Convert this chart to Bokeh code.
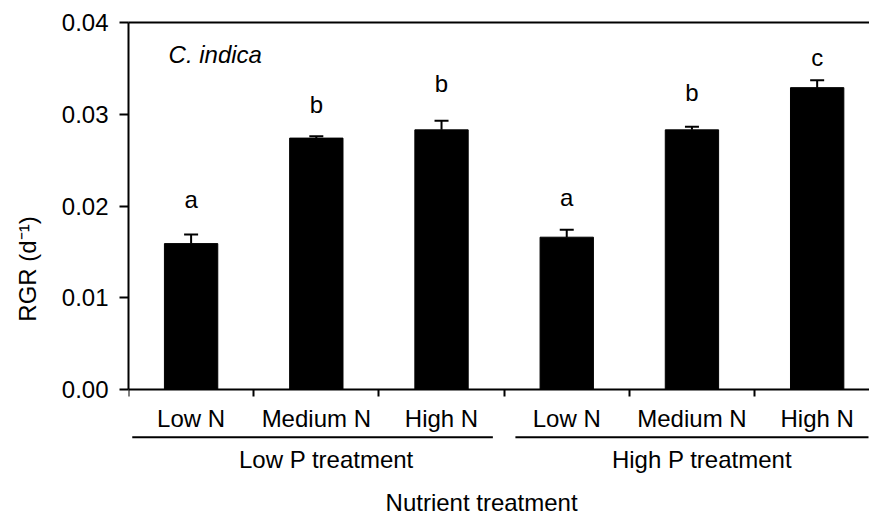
from bokeh.plotting import figure
from bokeh.models import (Range1d, FixedTicker, NumeralTickFormatter, LinearAxis,
                          Whisker, TeeHead, ColumnDataSource)
from bokeh.core.properties import value
from bokeh.embed import file_html
from bokeh.resources import INLINE

# Relative growth rate of C. indica under N x P nutrient treatments
n_levels = ["Low N", "Medium N", "High N", "Low N", "Medium N", "High N"]
p_groups = ["Low P treatment", "High P treatment"]
rgr_mean = [0.0159, 0.0274, 0.0283, 0.0166, 0.0283, 0.0329]
rgr_se = [0.0010, 0.0002, 0.0010, 0.0008, 0.00035, 0.0008]
sig_letters = ["a", "b", "b", "a", "b", "c"]
y_ticks = [0.00, 0.01, 0.02, 0.03, 0.04]

FONT = "Liberation Sans"
FS = "24px"

# vertical scale: pixels per RGR unit; the frame runs down past the axis
# so that the group annotations below it stay inside the drawing area
PX = 9175.0
Y_TOP = 0.04
Y_BOTTOM = -126 / PX
BASE_FIX = -9  # lifts alphabetic baselines of svg text onto their target


def below(px):
    """Data y for a point px pixels under the zero line."""
    return -px / PX


xs = [i + 0.5 for i in range(len(n_levels))]
src = ColumnDataSource(dict(
    x=xs, mean=rgr_mean,
    upper=[m + s for m, s in zip(rgr_mean, rgr_se)],
    letter=sig_letters,
    gap=[BASE_FIX - g for g in [26, 23, 28, 23, 25, 14]],
))

p = figure(width=869, height=515, output_backend="svg", toolbar_location=None,
           x_range=Range1d(0, 5.918), y_range=Range1d(Y_BOTTOM, Y_TOP),
           min_border_left=128, min_border_right=0, min_border_top=22,
           min_border_bottom=0, x_axis_type=None, y_axis_type=None)
p.outline_line_color = None
p.grid.visible = False
p.background_fill_color = "white"
p.border_fill_color = "white"

# bars and one-sided error bars
p.vbar(x="x", top="mean", bottom=0, width=0.426, source=src,
       fill_color="black", line_color="black")
p.add_layout(Whisker(base="x", lower="mean", upper="upper", source=src,
                     dimension="height", line_width=2, line_color="black",
                     upper_head=TeeHead(size=14, line_width=2, line_color="black"),
                     lower_head=None))

# significance letters above the error bars
p.text(x="x", y="upper", text="letter", y_offset="gap", source=src,
       text_align="center", text_baseline="alphabetic",
       text_font=value(FONT), text_font_size=FS, text_color="black")

# species label
p.text(x=[0.32], y=[0.0355], text=["C. indica"], y_offset=BASE_FIX,
       text_font=value(FONT), text_font_size=FS, text_font_style="italic",
       text_baseline="alphabetic", text_align="left", text_color="black")

# y axis, limited to the data part of the frame
yax = LinearAxis(ticker=FixedTicker(ticks=y_ticks, minor_ticks=[]),
                 formatter=NumeralTickFormatter(format="0.00"),
                 axis_label="RGR (d\u207b\u00b9)", bounds=(0, Y_TOP))
yax.axis_line_width = 2
yax.major_tick_line_width = 2
yax.major_tick_out = 9
yax.major_tick_in = 0
yax.major_label_standoff = 11
yax.major_label_text_font = FONT
yax.major_label_text_font_size = FS
yax.major_label_text_color = "black"
yax.axis_label_text_font = FONT
yax.axis_label_text_font_size = FS
yax.axis_label_text_font_style = "normal"
yax.axis_label_text_color = "black"
yax.axis_label_standoff = 18
p.add_layout(yax, "left")

# x axis pinned at zero: N level names centred, ticks at category boundaries
xax = LinearAxis(ticker=FixedTicker(ticks=xs, minor_ticks=list(range(len(n_levels) + 1))),
                 fixed_location=0)
xax.major_label_overrides = {x: n for x, n in zip(xs, n_levels)}
xax.axis_line_width = 2
xax.major_tick_out = 0
xax.major_tick_in = 0
xax.minor_tick_out = 7
xax.minor_tick_in = 0
xax.minor_tick_line_width = 2
xax.major_label_standoff = 8
xax.major_label_text_font = FONT
xax.major_label_text_font_size = FS
xax.major_label_text_color = "black"
p.add_layout(xax, "below")

# top frame line
tax = LinearAxis(ticker=FixedTicker(ticks=[]), major_label_text_font_size="0px")
tax.axis_line_width = 2
tax.major_tick_out = 0
tax.minor_tick_out = 0
p.add_layout(tax, "above")

# P treatment grouping lines and labels
groups = [(0, 3), (3, 6)]
line_x0, line_x1, lab_x = [], [], []
for lo, hi in groups:
    line_x0.append(lo + 0.09 if lo > 0 else 0.03)
    line_x1.append(hi - 0.09)
    lab_x.append((lo + hi) / 2 + 0.08)
p.segment(x0=line_x0, x1=line_x1, y0=below(47.7), y1=below(47.7),
          line_width=2, line_color="black")
p.text(x=lab_x, y=below(79.3), text=p_groups, y_offset=BASE_FIX,
       text_align="center", text_baseline="alphabetic",
       text_font=value(FONT), text_font_size=FS, text_color="black")

# x axis title
p.text(x=[2.82], y=below(121.7), text=["Nutrient treatment"], y_offset=BASE_FIX,
       text_align="center", text_baseline="alphabetic",
       text_font=value(FONT), text_font_size=FS, text_color="black")

open("out.html", "w").write(file_html(p, INLINE))
